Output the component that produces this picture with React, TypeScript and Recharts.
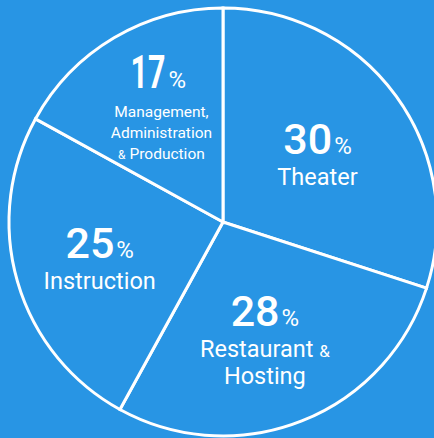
import React from 'react';
import { PieChart, Pie, Cell } from 'recharts';

const categories = ['Theater', 'Restaurant & Hosting', 'Instruction', 'Management, Administration & Production'];
const shares = [30, 28, 25, 17];
const labelLines = [
  ['Theater'],
  ['Restaurant &', 'Hosting'],
  ['Instruction'],
  ['Management,', 'Administration', '& Production'],
];

const BG = '#2895E4';
const RAD = Math.PI / 180;
// how far out (as a share of the radius) each label block sits, plus a small sideways nudge
const labelRadius = [0.54, 0.595, 0.6, 0.62];
const labelNudge = [1, -5, 0, 6];

const data = categories.map((name, i) => ({ name, value: shares[i] }));

function renderWithAmp(line: string, size: number, ampSize: number) {
  const parts = line.split('&');
  if (parts.length === 1) return line;
  return parts.map((p, i) => (
    <React.Fragment key={i}>
      {i > 0 && <tspan fontSize={ampSize}>&amp;</tspan>}
      {p && <tspan fontSize={size}>{p}</tspan>}
    </React.Fragment>
  ));
}

function SliceLabel(props: any) {
  const { cx, cy, midAngle, outerRadius, index } = props;
  const lines = labelLines[index];
  const small = lines.length > 2;
  const dist = outerRadius * labelRadius[index];
  const x = cx + dist * Math.cos(-midAngle * RAD) + labelNudge[index];
  const y = cy + dist * Math.sin(-midAngle * RAD);

  const numSize = small ? 46 : 43;
  const pctSize = 24;
  const lineSize = small ? 15.5 : 23.5;
  const ampSize = small ? 12 : 17;
  const numBase = small ? y - 20 : y - (lines.length - 1) * 14;
  const firstGap = small ? 29 : 31;
  const gap = small ? 21 : 27;

  return (
    <g fill="#fff" style={{ fontFamily: 'Roboto, sans-serif' }}>
      {small ? (
        <>
          {/* the 17 is set in a squeezed, heavier cut */}
          <text
            transform={`translate(${x + 4},${numBase}) scale(0.66,1)`}
            textAnchor="end"
            fontSize={numSize}
            fontWeight={700}
          >
            {shares[index]}
          </text>
          <text x={x + 7} y={numBase} fontSize={pctSize}>%</text>
        </>
      ) : (
        <text x={x} y={numBase} textAnchor="middle">
          <tspan fontSize={numSize} fontWeight={500}>{shares[index]}</tspan>
          <tspan fontSize={pctSize} dx={2}>%</tspan>
        </text>
      )}
      {lines.map((line, i) => (
        <text key={i} x={x} y={numBase + firstGap + i * gap} textAnchor="middle" fontSize={lineSize}>
          {renderWithAmp(line, lineSize, ampSize)}
        </text>
      ))}
    </g>
  );
}

export default function App() {
  return (
    <div style={{ position: 'absolute', left: 0, top: 0, width: 434, height: 438, background: BG, overflow: 'hidden' }}>
      <PieChart width={434} height={438} margin={{ top: 0, right: 0, bottom: 0, left: 0 }}>
        <Pie
          data={data}
          dataKey="value"
          nameKey="name"
          cx={223}
          cy={222}
          outerRadius={214}
          startAngle={90}
          endAngle={-270}
          stroke="#fff"
          strokeWidth={3}
          label={SliceLabel}
          labelLine={false}
          isAnimationActive={false}
        >
          {data.map((d) => (
            <Cell key={d.name} fill={BG} />
          ))}
        </Pie>
      </PieChart>
    </div>
  );
}
